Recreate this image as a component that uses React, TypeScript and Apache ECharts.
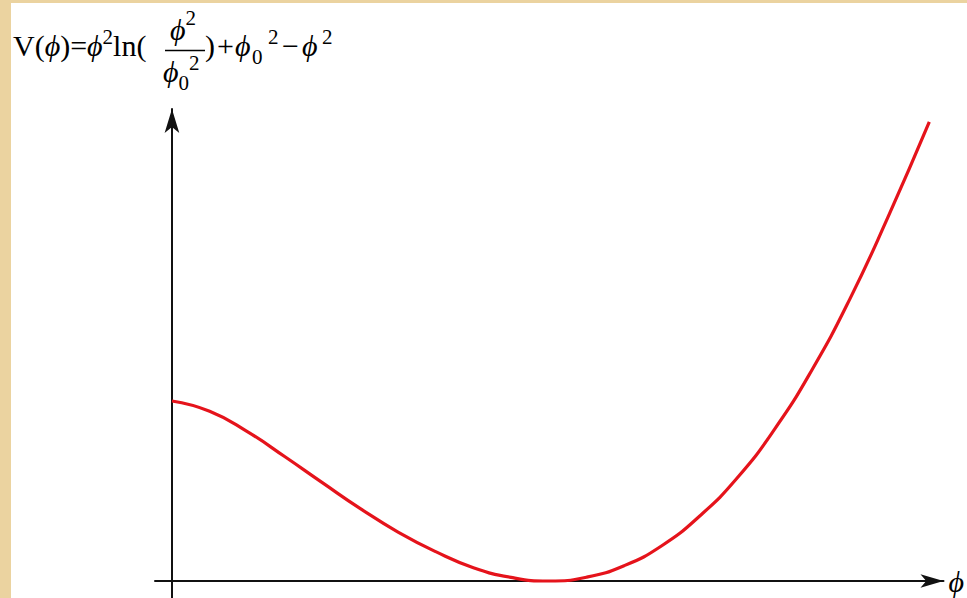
import React, { useEffect, useRef } from "react";
import * as echarts from "echarts";

// Field values φ (in units of φ0) and potential V(φ) (in units of φ0²), sampled along the curve
const phi = [0, 0.1, 0.2, 0.3, 0.4, 0.5, 0.6, 0.7, 0.8, 0.9, 1.0, 1.1, 1.2, 1.3, 1.4, 1.5, 1.6, 1.7, 1.8, 1.9, 2.01];
const potential = [1.0, 0.943, 0.83, 0.69, 0.545, 0.402, 0.272, 0.163, 0.074, 0.02, 0, 0.021, 0.085, 0.196, 0.36, 0.572, 0.845, 1.178, 1.57, 2.02, 2.55];

// Axis extents (the φ axis starts a little left of the origin, the V axis runs a little below it)
const phiRange = [-0.045, 2.0476];
const vRange = [-0.0944, 2.622];

const axisName = "ϕ";
const SERIF = "'Liberation Serif', 'Times New Roman', serif";

const base = { fontFamily: SERIF, color: "#000" };
const supPad = [3.3, 0, 19.7, 0];
const subPad = [24, 0, 0, 0];
const rich = {
  n: { ...base, fontSize: 30, lineHeight: 44 },
  i: { ...base, fontSize: 30, fontStyle: "italic", lineHeight: 44 },
  sp: { ...base, fontSize: 21, lineHeight: 21, padding: supPad },
  spHi: { ...base, fontSize: 21, lineHeight: 21, padding: [0, 0, 23, 0] },
  sb: { ...base, fontSize: 21, lineHeight: 21, padding: subPad },
  // fixed-width tokens for the right-hand part of the formula
  rp: { ...base, fontSize: 30, lineHeight: 44, width: 12 },
  op: { ...base, fontSize: 30, lineHeight: 44, width: 18 },
  op2: { ...base, fontSize: 30, lineHeight: 44, width: 20 },
  iw: { ...base, fontSize: 30, fontStyle: "italic", lineHeight: 44, width: 17 },
  iw2: { ...base, fontSize: 30, fontStyle: "italic", lineHeight: 44, width: 20 },
  sbw: { ...base, fontSize: 21, lineHeight: 21, padding: subPad, width: 16 },
  spw: { ...base, fontSize: 21, lineHeight: 21, padding: supPad, width: 14 },
};

export default function App() {
  const ref = useRef<HTMLDivElement>(null);

  useEffect(() => {
    if (!ref.current) return;
    const chart = echarts.init(ref.current, null, { renderer: "svg" });
    const data = phi.map((p, k) => [p, potential[k]]);

    chart.setOption({
      animation: false,
      backgroundColor: "#ffffff",
      grid: { left: 155, right: 21, top: 109, bottom: 0 },
      xAxis: {
        type: "value",
        min: phiRange[0],
        max: phiRange[1],
        axisLine: {
          show: true,
          onZero: true,
          symbol: ["none", "arrow"],
          symbolSize: [10, 23],
          lineStyle: { color: "#111", width: 2 },
        },
        axisTick: { show: false },
        axisLabel: { show: false },
        splitLine: { show: false },
        name: axisName,
        nameLocation: "end",
        nameGap: 5,
        nameTextStyle: { fontFamily: SERIF, fontStyle: "italic", fontSize: 30, color: "#000" },
      },
      yAxis: {
        type: "value",
        min: vRange[0],
        max: vRange[1],
        axisLine: {
          show: true,
          onZero: true,
          symbol: ["none", "arrow"],
          symbolSize: [11, 24],
          lineStyle: { color: "#111", width: 2 },
        },
        axisTick: { show: false },
        axisLabel: { show: false },
        splitLine: { show: false },
      },
      series: [
        {
          type: "line",
          data,
          smooth: true,
          showSymbol: false,
          clip: false,
          lineStyle: { color: "#E5131B", width: 3.2 },
        },
      ],
      graphic: [
        { type: "rect", shape: { x: 0, y: 0, width: 11, height: 598 }, style: { fill: "#EBD3A0" } },
        { type: "rect", shape: { x: 0, y: 0, width: 967, height: 3 }, style: { fill: "#EBD3A0" } },
        {
          type: "text",
          x: 13,
          y: 23,
          style: {
            text: "{n|V(}{i|ϕ}{n|)=}{i|ϕ}{sp|2}{n|ln(}",
            rich,
            verticalAlign: "top",
          },
        },
        {
          type: "text",
          x: 170,
          y: 7,
          style: { text: "{i|ϕ}{spHi|2}", rich, verticalAlign: "top" },
        },
        { type: "line", shape: { x1: 165, y1: 50.5, x2: 205, y2: 50.5 }, style: { stroke: "#000", lineWidth: 1.5 } },
        {
          type: "text",
          x: 163,
          y: 49,
          style: { text: "{i|ϕ}{sb|0}{sp|2}", rich, verticalAlign: "top" },
        },
        {
          type: "text",
          x: 205,
          y: 23,
          style: {
            text: "{rp|)}{op|+}{iw|ϕ}{sbw|0}{spw|2}{op2|−}{iw2|ϕ}{sp|2}",
            rich,
            verticalAlign: "top",
          },
        },
      ],
    });

    return () => chart.dispose();
  }, []);

  return (
    <div
      ref={ref}
      style={{ position: "absolute", left: 0, top: 0, width: 967, height: 598 }}
    />
  );
}
